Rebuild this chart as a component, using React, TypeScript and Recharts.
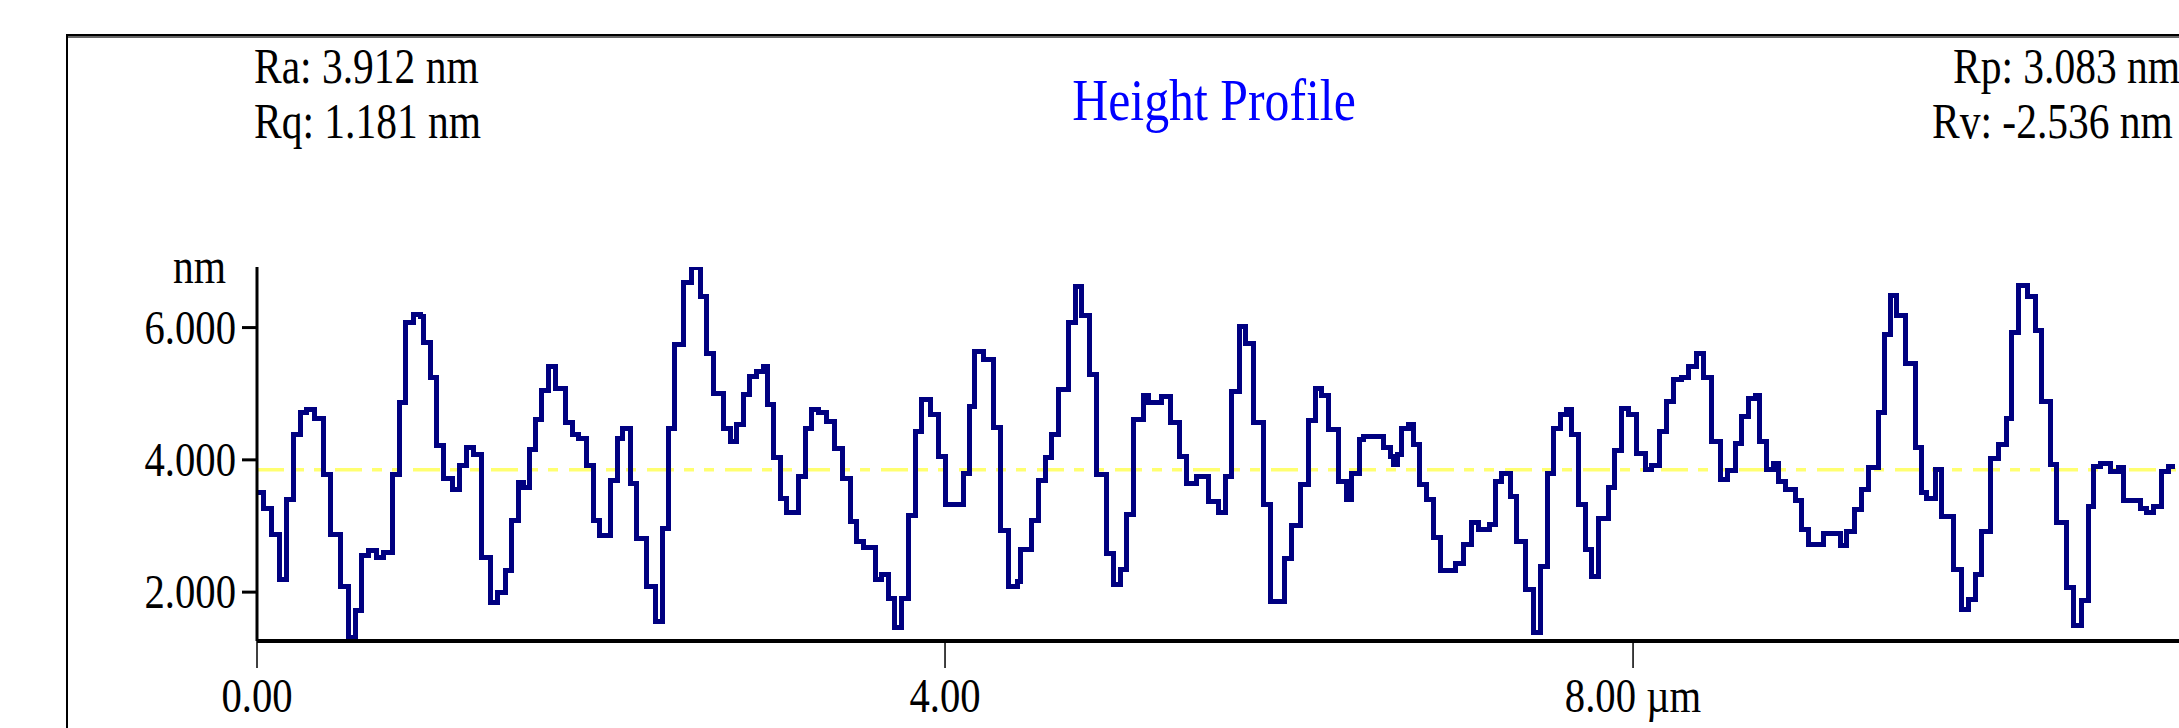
import { LineChart, Line, XAxis, YAxis, ReferenceLine } from 'recharts';

// profile samples: position (µm) where each step starts, height (nm)
const POSITIONS = [
  0.0, 0.04, 0.085, 0.13, 0.173, 0.211, 0.254, 0.289, 0.337, 0.389, 0.428, 0.483, 0.531, 0.57, 0.608, 0.647,
  0.692, 0.734, 0.789, 0.827, 0.866, 0.909, 0.948, 0.967, 1.01, 1.045, 1.087, 1.138, 1.18, 1.219, 1.258, 1.306,
  1.359, 1.397, 1.442, 1.481, 1.519, 1.552, 1.583, 1.622, 1.655, 1.694, 1.733, 1.791, 1.832, 1.868, 1.917, 1.955,
  1.994, 2.058, 2.097, 2.126, 2.169, 2.207, 2.266, 2.314, 2.359, 2.391, 2.43, 2.479, 2.527, 2.576, 2.614, 2.653,
  2.711, 2.75, 2.785, 2.827, 2.866, 2.905, 2.944, 2.967, 3.002, 3.041, 3.079, 3.147, 3.186, 3.225, 3.264, 3.312,
  3.36, 3.405, 3.448, 3.486, 3.525, 3.593, 3.632, 3.671, 3.709, 3.748, 3.787, 3.826, 3.864, 3.913, 3.961, 4.0,
  4.107, 4.141, 4.174, 4.223, 4.281, 4.32, 4.368, 4.421, 4.44, 4.504, 4.543, 4.582, 4.62, 4.659, 4.717, 4.756,
  4.795, 4.839, 4.878, 4.936, 4.979, 5.018, 5.056, 5.095, 5.153, 5.182, 5.26, 5.308, 5.366, 5.405, 5.463, 5.531,
  5.589, 5.628, 5.667, 5.711, 5.744, 5.793, 5.851, 5.89, 5.971, 6.016, 6.068, 6.113, 6.151, 6.19, 6.229, 6.287,
  6.335, 6.365, 6.409, 6.432, 6.549, 6.587, 6.606, 6.63, 6.655, 6.694, 6.723, 6.761, 6.8, 6.839, 6.882, 6.965,
  7.013, 7.062, 7.101, 7.165, 7.203, 7.236, 7.285, 7.323, 7.372, 7.42, 7.463, 7.502, 7.54, 7.579, 7.614, 7.643,
  7.682, 7.721, 7.76, 7.798, 7.856, 7.895, 7.934, 7.973, 8.021, 8.07, 8.108, 8.153, 8.192, 8.235, 8.283, 8.322,
  8.37, 8.409, 8.457, 8.509, 8.548, 8.593, 8.631, 8.67, 8.709, 8.734, 8.777, 8.816, 8.845, 8.884, 8.942, 8.981,
  9.02, 9.107, 9.204, 9.243, 9.285, 9.33, 9.369, 9.427, 9.46, 9.498, 9.533, 9.582, 9.64, 9.679, 9.708, 9.756,
  9.795, 9.863, 9.911, 9.95, 9.989, 10.027, 10.08, 10.124, 10.169, 10.202, 10.241, 10.293, 10.338, 10.376, 10.425, 10.464,
  10.518, 10.56, 10.609, 10.648, 10.677, 10.716, 10.774, 10.822, 10.851, 10.948, 10.987, 11.026, 11.074, 11.113, 11.152,
];

const HEIGHTS = [
  3.5, 3.27, 2.87, 2.19, 3.4, 4.38, 4.71, 4.76, 4.62, 3.78, 2.87, 2.08, 1.32, 1.72, 2.56, 2.63,
  2.53, 2.6, 3.78, 4.87, 6.07, 6.2, 6.17, 5.78, 5.24, 4.22, 3.72, 3.55, 3.92, 4.19, 4.08, 2.53,
  1.85, 1.99, 2.33, 3.08, 3.66, 3.58, 4.15, 4.61, 5.05, 5.41, 5.08, 4.56, 4.38, 4.33, 3.92, 3.09,
  2.86, 3.69, 4.33, 4.47, 3.65, 2.81, 2.08, 1.56, 2.96, 4.48, 5.74, 6.68, 6.91, 6.47, 5.61, 5.01,
  4.48, 4.27, 4.53, 4.99, 5.26, 5.34, 5.41, 4.84, 4.03, 3.42, 3.2, 3.75, 4.48, 4.76, 4.71, 4.58,
  4.17, 3.72, 3.07, 2.76, 2.67, 2.19, 2.26, 1.91, 1.46, 1.9, 3.16, 4.43, 4.91, 4.68, 4.05, 3.32,
  3.8, 4.81, 5.64, 5.51, 4.49, 2.93, 2.08, 2.16, 2.64, 3.09, 3.69, 4.03, 4.38, 5.06, 6.07, 6.62,
  6.19, 5.29, 3.78, 2.59, 2.12, 2.34, 3.17, 4.61, 4.98, 4.86, 4.96, 4.56, 4.05, 3.65, 3.75, 3.37,
  3.2, 3.75, 5.03, 6.02, 5.76, 4.56, 3.32, 1.86, 2.51, 3.0, 3.63, 4.6, 5.08, 4.97, 4.46, 3.67,
  3.4, 3.79, 4.31, 4.35, 4.18, 4.05, 3.93, 4.08, 4.48, 4.53, 4.23, 3.63, 3.4, 2.82, 2.32, 2.44,
  2.72, 3.06, 2.95, 3.02, 3.68, 3.79, 3.45, 2.77, 2.04, 1.39, 2.39, 3.8, 4.48, 4.69, 4.76, 4.38,
  3.33, 2.64, 2.24, 3.12, 3.58, 4.14, 4.78, 4.68, 4.1, 3.85, 3.92, 4.43, 4.88, 5.21, 5.25, 5.41,
  5.61, 5.24, 4.28, 3.7, 3.84, 4.25, 4.66, 4.93, 4.97, 4.28, 3.85, 3.94, 3.68, 3.55, 3.38, 2.95,
  2.72, 2.88, 2.71, 2.91, 3.25, 3.55, 3.88, 4.71, 5.89, 6.49, 6.19, 5.46, 4.18, 3.5, 3.42, 3.85,
  3.15, 2.34, 1.74, 1.89, 2.27, 2.91, 4.02, 4.23, 4.63, 5.93, 6.64, 6.47, 5.96, 4.88, 3.93, 3.05,
  2.07, 1.5, 1.87, 3.3, 3.9, 3.95, 3.83, 3.89, 3.38, 3.26, 3.2, 3.3, 3.82, 3.9, 3.9,
];

const X_TICKS = [0, 4, 8];
const X_LABELS = ['0.00', '4.00', '8.00 µm'];
const Y_TICKS = [2, 4, 6];
const MEAN_LINE = 3.85;
const X_MAX = 11.174;
const Y_DOMAIN = [1.261, 6.916];

const data = POSITIONS.map((x, i) => ({ x, h: HEIGHTS[i] }));

const FONT = "'Liberation Serif', 'Times New Roman', serif";

const Txt = ({ x, y, anchor = 'start', size = 50, fill = '#000', children }: any) => (
  <text
    transform={`translate(${x},${y}) scale(0.83,1)`}
    textAnchor={anchor}
    fontFamily={FONT}
    fontSize={size}
    fill={fill}
  >
    {children}
  </text>
);

const YTick = ({ x, y, payload }: any) => (
  <Txt x={x} y={y + 16} anchor="end" size={49}>
    {Number(payload.value).toFixed(3)}
  </Txt>
);

const XTick = ({ x, payload }: any) => (
  <Txt x={x} y={712} anchor="middle" size={49}>
    {X_LABELS[X_TICKS.indexOf(payload.value)]}
  </Txt>
);

export default function App() {
  return (
    <div style={{ position: 'absolute', left: 0, top: 0, width: 2179, height: 728, overflow: 'hidden', background: '#fff' }}>
      <LineChart
        width={2179}
        height={728}
        data={data}
        margin={{ top: 267, right: 0, bottom: 27, left: 157 }}
      >
        <XAxis
          dataKey="x"
          type="number"
          domain={[0, X_MAX]}
          allowDataOverflow
          ticks={X_TICKS}
          height={60}
          tickSize={27}
          tick={<XTick />}
          axisLine={{ stroke: '#000', strokeWidth: 4 }}
          tickLine={{ stroke: '#000', strokeWidth: 1.5 }}
        />
        <YAxis
          type="number"
          domain={Y_DOMAIN}
          allowDataOverflow
          ticks={Y_TICKS}
          width={100}
          tickSize={15}
          tickMargin={6}
          tick={<YTick />}
          axisLine={{ stroke: '#000', strokeWidth: 3 }}
          tickLine={{ stroke: '#000', strokeWidth: 3 }}
        />
        <ReferenceLine
          y={MEAN_LINE}
          stroke="#FFFF70"
          strokeWidth={3.5}
          strokeDasharray="27 10 10 10 10 11"
        />
        <Line
          type="stepAfter"
          dataKey="h"
          stroke="#000080"
          strokeWidth={5}
          dot={false}
          isAnimationActive={false}
          shapeRendering="crispEdges"
        />
      </LineChart>
      <svg
        width={2179}
        height={728}
        style={{ position: 'absolute', left: 0, top: 0, pointerEvents: 'none' }}
      >
        <line x1={66} y1={35} x2={2179} y2={35} stroke="#000" strokeWidth={2} />
        <line x1={68} y1={37} x2={2179} y2={37} stroke="#666" strokeWidth={2} />
        <line x1={67} y1={34} x2={67} y2={728} stroke="#000" strokeWidth={2} />
        <Txt x={254} y={83}>Ra: 3.912 nm</Txt>
        <Txt x={254} y={138}>Rq: 1.181 nm</Txt>
        <Txt x={1214} y={120} anchor="middle" size={60} fill="#0000FF">Height Profile</Txt>
        <Txt x={1953} y={83}>Rp: 3.083 nm</Txt>
        <Txt x={1932} y={138}>Rv: -2.536 nm</Txt>
        <Txt x={173} y={283}>nm</Txt>
      </svg>
    </div>
  );
}
